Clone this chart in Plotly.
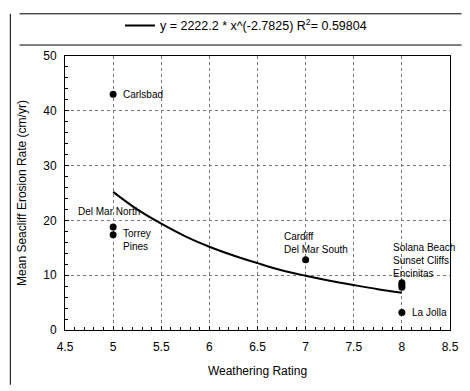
import plotly.graph_objects as go

# Observed data
x_pts = [5, 5, 5, 7, 8, 8, 8, 8]
y_pts = [43.0, 18.8, 17.4, 12.8, 8.6, 8.2, 7.8, 3.2]

# Fitted power-law curve
x_fit = [5.0, 5.25, 5.5, 5.75, 6.0, 6.25, 6.5, 6.75, 7.0, 7.25, 7.5, 7.75, 8.0]
y_fit = [25.2, 22.0, 19.4, 17.1, 15.2, 13.6, 12.2, 10.9, 9.9, 9.0, 8.2, 7.45, 6.8]

fit_name = "y = 2222.2 * x^(-2.7825) R<sup>2</sup>= 0.59804"

label_text = ["Carlsbad", "Del Mar North", "Torrey<br>Pines", "Cardiff<br>Del Mar South",
              "Solana Beach<br>Sunset Cliffs<br>Encinitas", "La Jolla"]
label_x = [5, 5, 5, 7, 8, 8]
label_y = [43.0, 18.8, 17.4, 12.8, 8.6, 3.2]

x_ticks = [4.5, 5, 5.5, 6, 6.5, 7, 7.5, 8, 8.5]
y_ticks = [0, 10, 20, 30, 40, 50]

font = "Liberation Sans, Arial, sans-serif"

fig = go.Figure()
fig.add_trace(go.Scatter(x=x_fit, y=y_fit, mode="lines", line=dict(color="black", width=2, shape="spline"),
                         name=fit_name, showlegend=True))
fig.add_trace(go.Scatter(x=x_pts, y=y_pts, mode="markers", marker=dict(color="black", size=7),
                         showlegend=False))

specs = [
    dict(xanchor="left", yanchor="middle", xshift=8, yshift=0),
    dict(xanchor="center", yanchor="bottom", xshift=-4, yshift=8),
    dict(xanchor="left", yanchor="top", xshift=8, yshift=9),
    dict(xanchor="center", yanchor="bottom", xshift=10, yshift=3),
    dict(xanchor="right", yanchor="bottom", xshift=55, yshift=2),
    dict(xanchor="left", yanchor="middle", xshift=8, yshift=0),
]
for t, xx, yy, s in zip(label_text, label_x, label_y, specs):
    fig.add_annotation(x=xx, y=yy, text=t, showarrow=False, align="left",
                       font=dict(family=font, size=10, color="black"), **s)

fig.update_layout(
    width=470, height=391,
    margin=dict(l=65, r=11, t=52, b=61),
    paper_bgcolor="white", plot_bgcolor="white",
    font=dict(family=font, size=11, color="black"),
    legend=dict(orientation="h", x=0.47, xanchor="center", y=1.11, yanchor="middle",
                font=dict(family=font, size=12.5), bgcolor="rgba(0,0,0,0)"),
    xaxis=dict(range=[4.5, 8.5], tickvals=x_ticks, showgrid=True, gridcolor="#777", griddash="dot",
               gridwidth=1, showline=True, linecolor="black", linewidth=1, mirror=True,
               ticks="inside", ticklen=4, tickcolor="black", ticklabelstandoff=6,
               minor=dict(dtick=0.1, ticks="inside", ticklen=3, tickcolor="black", showgrid=False),
               title=dict(text="Weathering Rating", font=dict(size=12), standoff=13),
               zeroline=False, tickfont=dict(size=12)),
    yaxis=dict(range=[0, 50], tickvals=y_ticks, showgrid=True, gridcolor="#777", griddash="dot",
               gridwidth=1, showline=True, linecolor="black", linewidth=1, mirror=True,
               ticks="inside", ticklen=4, tickcolor="black", ticklabelstandoff=5,
               minor=dict(dtick=2, ticks="inside", ticklen=3, tickcolor="black", showgrid=False),
               title=dict(text="Mean Seacliff Erosion Rate (cm/yr)", font=dict(size=12), standoff=14),
               zeroline=False, tickfont=dict(size=12)),
)

# frame lines
fig.add_shape(type="line", xref="paper", yref="paper", x0=-0.118, x1=1.03, y0=1.154, y1=1.154,
              line=dict(color="black", width=1))
fig.add_shape(type="line", xref="paper", yref="paper", x0=-0.118, x1=1.03, y0=1.04, y1=1.04,
              line=dict(color="black", width=1))
fig.add_shape(type="line", xref="paper", yref="paper", x0=-0.142, x1=-0.142, y0=-0.2, y1=1.154,
              line=dict(color="black", width=1))

fig.write_html("out.html")
